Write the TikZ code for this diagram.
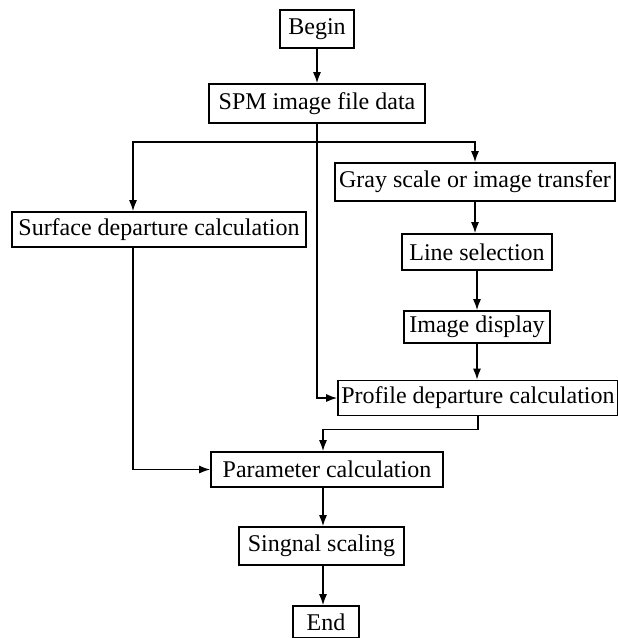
\documentclass[tikz,border=0pt]{standalone}
\usepackage{fontspec}
\setmainfont{Liberation Serif}
\usetikzlibrary{arrows.meta}
\tikzset{
	box/.style={draw,line width=1.6pt,inner sep=0pt,font=\fontsize{24}{28}\selectfont},
	arr/.style={line width=1.5pt,-{Latex[length=11pt,width=8pt]}}
}
\begin{document}
\begin{tikzpicture}[x=1pt,y=-1pt]
			\useasboundingbox (0,0) rectangle (618,638);
			\node[box,minimum width=74pt,minimum height=38pt] (begin) at (317,29) {Begin};
			\node[box,minimum width=216pt,minimum height=39pt] (spm) at (317,103.5) {SPM image file data};
			\node[box,minimum width=294pt,minimum height=35pt] (surf) at (159,229.5) {Surface departure calculation};
			\node[box,minimum width=280pt,minimum height=38pt] (gray) at (475,182) {Gray scale or image transfer};
			\node[box,minimum width=150pt,minimum height=36pt] (line) at (477,252) {Line selection};
			\node[box,minimum width=146pt,minimum height=32pt] (image) at (477,327) {Image display};
			\node[box,minimum width=280pt,minimum height=35pt] (profile) at (478,398) {Profile departure calculation};
			\node[box,minimum width=232pt,minimum height=35pt] (param) at (327,469.5) {Parameter calculation};
			\node[box,minimum width=165pt,minimum height=38pt] (signal) at (321.5,546) {Singnal scaling};
			\node[box,minimum width=66pt,minimum height=32pt] (end) at (326,622) {End};
			\coordinate (fork) at (133,142);
			\coordinate (col) at (323,0);
			\draw[arr] (begin.south) -- (begin.south |- spm.north);
			\draw[arr] (spm.south) |- (profile.west);
			\draw[arr] (spm.south |- fork) -| (gray.north);
			\draw[arr] (spm.south |- fork) -- (fork) -- (fork |- surf.north);
			\draw[arr] (gray.south) -- (gray.south |- line.north);
			\draw[arr] (line.south) -- (line.south |- image.north);
			\draw[arr] (image.south) -- (image.south |- profile.north);
			\draw[arr] (profile.south) -- ++(0,13) -| (col |- param.north);
			\draw[arr] (fork |- surf.south) |- (param.west);
			\draw[arr] (col |- param.south) -- (col |- signal.north);
			\draw[arr] (col |- signal.south) -- (col |- end.north);
		\end{tikzpicture}
\end{document}
